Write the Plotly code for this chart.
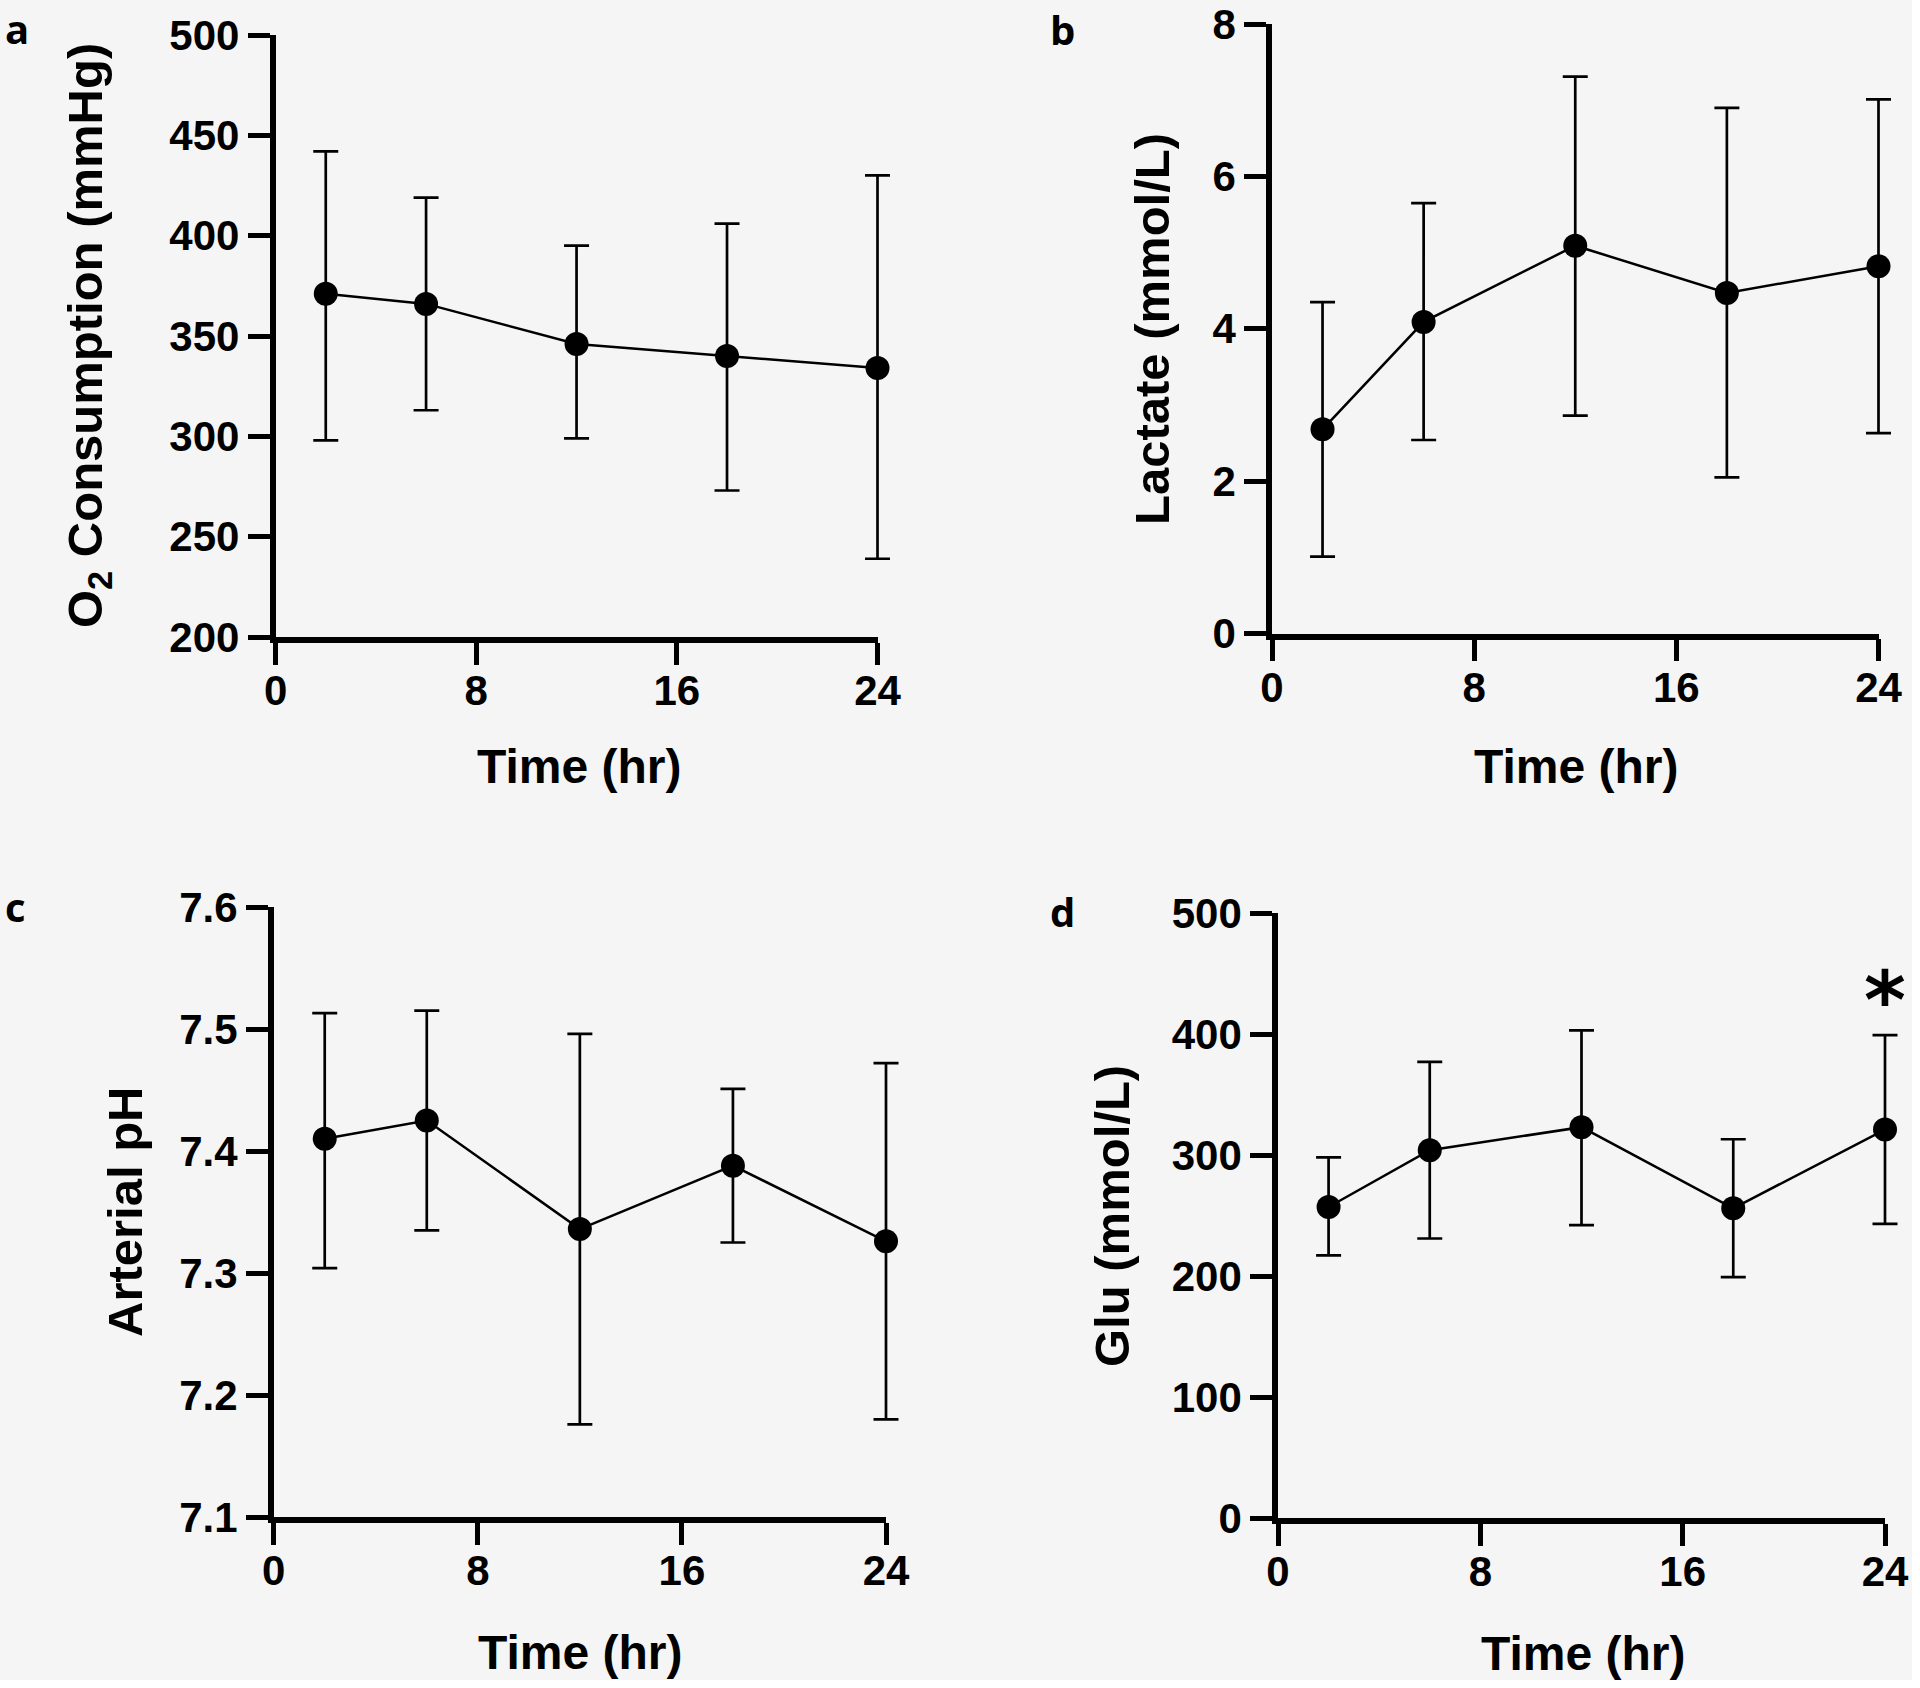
import plotly.graph_objects as go

# ---------------- data ----------------
time_hr = [2, 6, 12, 18, 24]

o2_mean = [371, 366, 346, 340, 334]
o2_upper = [442, 419, 395, 406, 430]
o2_lower = [298, 313, 299, 273, 239]

lactate_mean = [2.68, 4.09, 5.09, 4.47, 4.82]
lactate_upper = [4.35, 5.65, 7.31, 6.90, 7.01]
lactate_lower = [1.01, 2.54, 2.86, 2.05, 2.63]

ph_mean = [7.410, 7.425, 7.336, 7.388, 7.326]
ph_upper = [7.513, 7.515, 7.496, 7.451, 7.472]
ph_lower = [7.304, 7.335, 7.176, 7.325, 7.180]

glu_mean = [257, 304, 323, 256, 321]
glu_upper = [298, 377, 403, 313, 399]
glu_lower = [217, 231, 242, 199, 243]

x_ticks = [0, 8, 16, 24]
o2_ticks = [200, 250, 300, 350, 400, 450, 500]
lactate_ticks = [0, 2, 4, 6, 8]
ph_ticks = [7.1, 7.2, 7.3, 7.4, 7.5, 7.6]
ph_ticklabels = ["7.1", "7.2", "7.3", "7.4", "7.5", "7.6"]
glu_ticks = [0, 100, 200, 300, 400, 500]

x_title = "Time (hr)"
y_titles = ["O<sub>2</sub> Consumption (mmHg)", "Lactate (mmol/L)", "Arterial pH", "Glu (mmol/L)"]
panel_letters = ["a", "b", "c", "d"]

# ---------------- layout geometry (page pixels) ----------------
W, H = 1912, 1680          # figure sits at the page's top-left corner (body margin removed)
BG = "#f5f5f5"


def px(xp):
    return min(max(xp / W, 0.0), 1.0)


def py(yp):
    return min(max(1 - yp / H, 0.0), 1.0)


panels = [
    # x0, x1, ytop, ybot  (page pixels)
    (275.6, 877.5, 35, 637),
    (1272, 1878.5, 24, 633.5),
    (273.7, 886, 907, 1517),
    (1278, 1885, 913, 1518),
]
XMIN, XMAX = 0, 24
yranges = [(200, 500), (0, 8), (7.1, 7.6), (0, 500)]
ytickvals = [o2_ticks, lactate_ticks, ph_ticks, glu_ticks]
yticktext = [None, None, ph_ticklabels, None]
series = [
    (o2_mean, o2_upper, o2_lower),
    (lactate_mean, lactate_upper, lactate_lower),
    (ph_mean, ph_upper, ph_lower),
    (glu_mean, glu_upper, glu_lower),
]
xtitle_pos = [(579, 767), (1576, 767), (580, 1652), (1583, 1653)]
ytitle_pos = [(89, 336), (1152, 329), (125, 1212), (1112, 1216)]
letter_pos = [(17, 28), (1062.5, 29.5), (16, 906.5), (1062, 911.5)]
PAD = 20  # px of extra room for the unclipped error-bar layer

FONT = "Liberation Sans, Arial, sans-serif"

fig = go.Figure()
layout = dict(
    width=W, height=H,
    margin=dict(l=0, r=0, t=0, b=0, autoexpand=False),
    paper_bgcolor=BG, plot_bgcolor="rgba(0,0,0,0)",
    showlegend=False,
    annotations=[],
)

for i, ((x0, x1, yt, yb), (m, up, lo)) in enumerate(zip(panels, series)):
    n = "" if i == 0 else str(i + 1)
    ne = str(i + 5)
    err_plus = [u - v for u, v in zip(up, m)]
    err_minus = [v - l for v, l in zip(m, lo)]

    # error bars on a hidden, slightly wider axis pair with identical scale (avoids clipping at x=24)
    fig.add_trace(go.Scatter(
        x=time_hr, y=m, mode="markers",
        xaxis="x" + ne, yaxis="y" + ne,
        marker=dict(color="black", size=1, opacity=0),
        error_y=dict(type="data", symmetric=False, array=err_plus, arrayminus=err_minus,
                     color="black", thickness=2.7, width=12.5),
        hoverinfo="skip",
    ))
    fig.add_trace(go.Scatter(
        x=time_hr, y=m, mode="lines+markers",
        xaxis="x" + n, yaxis="y" + n,
        line=dict(color="black", width=2.5),
        marker=dict(color="black", size=24),
        cliponaxis=False,
    ))

    axis_common = dict(
        showline=True, linecolor="black", linewidth=5.5,
        ticks="outside", ticklen=22, tickwidth=5, tickcolor="black",
        showgrid=False, zeroline=False, automargin=False, ticklabeloverflow="allow",
        tickfont=dict(family=FONT, size=42, color="black", weight="bold"),
    )
    layout["xaxis" + n] = dict(
        domain=[px(x0), px(x1)], range=[XMIN, XMAX], anchor="y" + n,
        tickmode="array", tickvals=x_ticks, ticklabelstandoff=-10,
        **axis_common,
    )
    yax = dict(
        domain=[py(yb), py(yt)], range=list(yranges[i]), anchor="x" + n,
        tickmode="array", tickvals=ytickvals[i],
        **axis_common,
    )
    if yticktext[i] is not None:
        yax["ticktext"] = yticktext[i]
    layout["yaxis" + n] = yax

    ext = PAD * (XMAX - XMIN) / (x1 - x0)
    layout["xaxis" + ne] = dict(
        domain=[px(x0 - PAD), px(x1 + PAD)], range=[XMIN - ext, XMAX + ext],
        anchor="y" + ne, visible=False, automargin=False, showgrid=False, zeroline=False,
    )
    layout["yaxis" + ne] = dict(
        domain=[py(yb), py(yt)], range=list(yranges[i]),
        anchor="x" + ne, visible=False, automargin=False, showgrid=False, zeroline=False,
    )

    # axis titles
    xt, yt_ = xtitle_pos[i]
    layout["annotations"].append(dict(
        text=x_title, x=px(xt), y=py(yt_), xref="paper", yref="paper",
        xanchor="center", yanchor="middle", showarrow=False,
        font=dict(family=FONT, size=48, color="black", weight="bold"),
    ))
    yx, yy = ytitle_pos[i]
    layout["annotations"].append(dict(
        text=y_titles[i], x=px(yx), y=py(yy), xref="paper", yref="paper",
        xanchor="center", yanchor="middle", showarrow=False, textangle=-90,
        font=dict(family=FONT, size=49, color="black", weight="bold"),
    ))
    lx, ly = letter_pos[i]
    layout["annotations"].append(dict(
        text=panel_letters[i], x=px(lx), y=py(ly), xref="paper", yref="paper",
        xanchor="center", yanchor="middle", showarrow=False,
        font=dict(family="Open Sans, sans-serif", size=40, color="black", weight="bold"),
    ))

# significance asterisk on panel d at 24 h
layout["annotations"].append(dict(
    text="*", x=24, y=glu_upper[-1], xref="x4", yref="y4",
    xanchor="center", yanchor="bottom", yshift=-14, showarrow=False,
    font=dict(family="DejaVu Sans, sans-serif", size=80, color="black", weight="bold"),
))

fig.update_layout(**layout)
fig.write_html("out.html", config={"displayModeBar": False},
               post_script="document.body.style.margin='0px';")
